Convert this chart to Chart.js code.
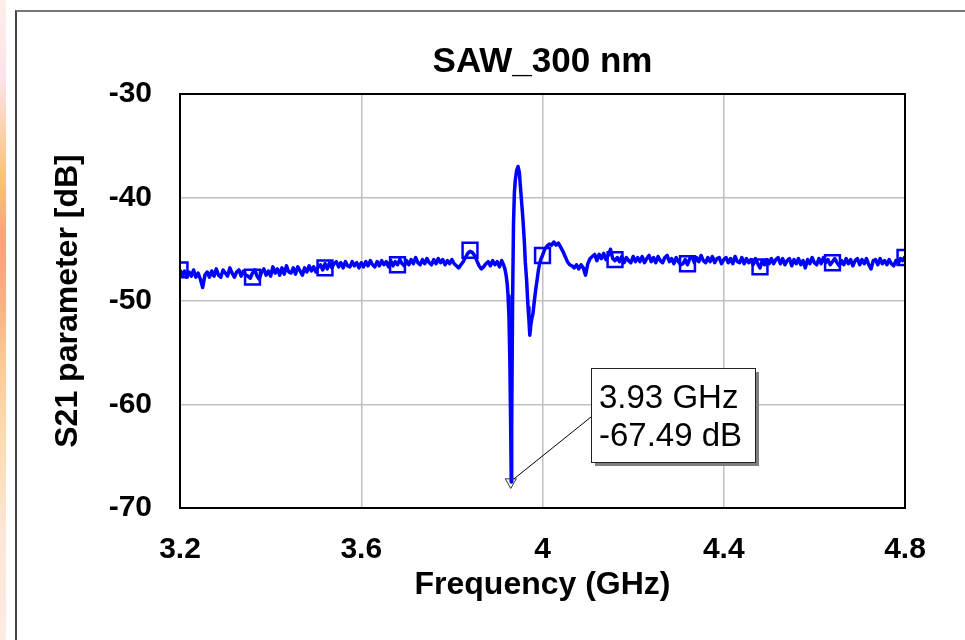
<!DOCTYPE html>
<html lang="en">
<head>
    <meta charset="UTF-8" />
    <title>SAW_300 nm</title>
    <script src="https://cdn.jsdelivr.net/npm/chart.js"></script>
    <style>
        html, body {
            margin: 0;
            padding: 0;
            background: #fff;
        }

        body {
            position: relative;
            width: 965px;
            height: 640px;
            overflow: hidden;
            font-family: "Liberation Sans", Arial, sans-serif;
        }

        .strip {
            position: absolute;
            left: 0;
            top: 0;
            width: 6px;
            height: 640px;
            background: linear-gradient(to bottom, #fdeee8 0%, #fde3ea 12%, #f9c47c 27%, #f7a37a 38%,
                #f9b283 48%, #fbc893 56%, #fcdbb0 68%, #fde7d8 85%, #fdebdf 100%);
        }

        .frame {
            position: absolute;
            left: 15px;
            top: 10px;
            width: 1000px;
            height: 700px;
            border-top: 2px solid #777;
            border-left: 2px solid #444;
        }

        .chart-box {
            position: absolute;
            left: 0;
            top: 0;
            width: 965px;
            height: 640px;
        }
    </style>
</head>
<body>

<div class="strip"></div>
<div class="frame"></div>
<div class="chart-box">
    <canvas id="s21Chart" width="965" height="640"></canvas>
</div>

<script>
    const chartTitle = 'SAW_300 nm';
    const xTitle = 'Frequency (GHz)';
    const yTitle = 'S21 parameter [dB]';
    const xTickValues = [3.2, 3.6, 4.0, 4.4, 4.8];
    const yTickValues = [-70, -60, -50, -40, -30];

    // measured sweep (GHz)
    const freqGHz = [
        3.200, 3.205, 3.210, 3.215, 3.220, 3.225, 3.230, 3.235, 3.240, 3.245,
        3.250, 3.255, 3.260, 3.265, 3.270, 3.275, 3.280, 3.285, 3.290, 3.295,
        3.300, 3.305, 3.310, 3.315, 3.320, 3.325, 3.330, 3.335, 3.340, 3.345,
        3.350, 3.355, 3.360, 3.365, 3.370, 3.375, 3.380, 3.385, 3.390, 3.395,
        3.400, 3.405, 3.410, 3.415, 3.420, 3.425, 3.430, 3.435, 3.440, 3.445,
        3.450, 3.455, 3.460, 3.465, 3.470, 3.475, 3.480, 3.485, 3.490, 3.495,
        3.500, 3.505, 3.510, 3.515, 3.520, 3.525, 3.530, 3.535, 3.540, 3.545,
        3.550, 3.555, 3.560, 3.565, 3.570, 3.575, 3.580, 3.585, 3.590, 3.595,
        3.600, 3.605, 3.610, 3.615, 3.620, 3.625, 3.630, 3.635, 3.640, 3.645,
        3.650, 3.655, 3.660, 3.665, 3.670, 3.675, 3.680, 3.685, 3.690, 3.695,
        3.700, 3.705, 3.710, 3.715, 3.720, 3.725, 3.730, 3.735, 3.740, 3.745,
        3.750, 3.755, 3.760, 3.765, 3.770, 3.775, 3.780, 3.785, 3.790, 3.795,
        3.800, 3.805, 3.810, 3.815, 3.820, 3.825, 3.830, 3.835, 3.840, 3.845,
        3.850, 3.855, 3.860, 3.865, 3.870, 3.875, 3.880, 3.885, 3.890, 3.895,
        3.900, 3.905, 3.910, 3.914, 3.917, 3.920, 3.922, 3.924, 3.926, 3.928, 3.930, 3.931,
        3.932, 3.934, 3.936, 3.938, 3.940, 3.943, 3.946, 3.949, 3.951, 3.954,
        3.957, 3.960, 3.962, 3.965, 3.968, 3.970, 3.972, 3.974, 3.976, 3.979,
        3.982, 3.985, 3.988, 3.991, 3.994, 3.997, 4.000, 4.005, 4.010, 4.015,
        4.020, 4.025, 4.030, 4.035, 4.040, 4.045, 4.050, 4.055, 4.060, 4.065,
        4.070, 4.075, 4.080, 4.085, 4.090, 4.095, 4.100, 4.105,
        4.110, 4.115, 4.120, 4.125, 4.130, 4.135, 4.140, 4.145, 4.150, 4.155,
        4.160, 4.165, 4.170, 4.175, 4.180, 4.185, 4.190, 4.195, 4.200, 4.205,
        4.210, 4.215, 4.220, 4.225, 4.230, 4.235, 4.240, 4.245, 4.250, 4.255,
        4.260, 4.265, 4.270, 4.275, 4.280, 4.285, 4.290, 4.295, 4.300, 4.305,
        4.310, 4.315, 4.320, 4.325, 4.330, 4.335, 4.340, 4.345, 4.350, 4.355,
        4.360, 4.365, 4.370, 4.375, 4.380, 4.385, 4.390, 4.395, 4.400, 4.405,
        4.410, 4.415, 4.420, 4.425, 4.430, 4.435, 4.440, 4.445, 4.450, 4.455,
        4.460, 4.465, 4.470, 4.475, 4.480, 4.485, 4.490, 4.495, 4.500, 4.505,
        4.510, 4.515, 4.520, 4.525, 4.530, 4.535, 4.540, 4.545, 4.550, 4.555,
        4.560, 4.565, 4.570, 4.575, 4.580, 4.585, 4.590, 4.595, 4.600, 4.605,
        4.610, 4.615, 4.620, 4.625, 4.630, 4.635, 4.640, 4.645, 4.650, 4.655,
        4.660, 4.665, 4.670, 4.675, 4.680, 4.685, 4.690, 4.695, 4.700, 4.705,
        4.710, 4.715, 4.720, 4.725, 4.730, 4.735, 4.740, 4.745, 4.750, 4.755,
        4.760, 4.765, 4.770, 4.775, 4.780, 4.785, 4.790, 4.795, 4.800
    ];

    // S21 (dB), same rows as freqGHz
    const s21dB = [
        -47.0, -47.5, -47.1, -47.7, -47.2, -47.6, -47.0, -47.7, -47.3, -47.9,
        -48.7, -47.5, -47.2, -47.7, -47.1, -47.6, -46.9, -47.5, -47.7, -47.0,
        -47.3, -47.6, -46.8, -47.3, -47.7, -47.2, -47.0, -47.6, -47.1, -47.5,
        -47.6, -47.8, -47.3, -47.0, -47.6, -47.9, -47.2, -46.9, -47.5, -47.1,
        -47.6, -46.7, -47.3, -46.9, -47.5, -46.8, -47.4, -46.6, -47.2, -47.3,
        -46.8, -47.4, -46.7, -47.1, -47.5, -46.8, -47.2, -46.6, -47.1, -46.7,
        -47.2, -46.7, -46.5, -47.0, -46.4, -46.9, -46.3, -46.8, -46.4, -46.2,
        -46.7, -46.3, -46.8, -46.2, -46.6, -46.7, -46.2, -46.6, -46.3, -46.8,
        -46.3, -46.7, -46.2, -46.6, -46.1, -46.5, -46.7, -46.2, -46.6, -46.1,
        -46.5, -46.2, -46.7, -46.1, -46.6, -46.2, -46.5, -46.0, -46.4, -46.6,
        -46.1, -46.5, -46.0, -46.4, -45.8, -46.3, -46.5, -46.0, -46.4, -45.9,
        -46.3, -46.5, -46.0, -46.4, -45.9, -46.3, -46.0, -46.5, -46.1, -46.4,
        -46.0, -46.4, -46.6, -46.8, -46.5, -46.2, -45.8, -45.4, -45.2, -45.3,
        -45.6, -46.1, -46.6, -46.9, -46.7, -46.4, -46.2, -46.6, -46.1, -46.5,
        -46.2, -46.7, -46.1, -46.5, -46.9, -47.6, -48.3, -49.5, -51.5, -56.0, -63.0, -67.49,
        -62.0, -50.0, -42.5, -39.5, -38.3, -37.4, -37.0, -37.6, -38.8, -40.5,
        -42.2, -44.3, -46.2, -48.0, -50.6, -51.8, -53.3, -52.4, -51.8, -51.2,
        -50.0, -48.9, -48.0, -47.0, -46.3, -45.9, -45.6, -45.0, -44.7, -44.5,
        -44.6, -44.3, -44.6, -44.4, -44.8, -45.2, -45.7, -46.2, -46.5, -46.6,
        -46.8, -46.5, -46.9, -46.5, -46.8, -47.5, -46.4, -45.9,
        -45.7, -45.5, -46.1, -45.5, -45.9, -45.4, -46.0, -45.6, -45.0, -45.9,
        -46.1, -45.8, -46.2, -45.7, -46.3, -45.8, -46.1, -46.3, -45.7, -46.2,
        -45.8, -46.2, -45.7, -46.3, -45.9, -45.6, -46.2, -45.8, -46.3, -45.7,
        -46.1, -46.3, -45.8, -45.6, -46.2, -45.9, -46.4, -45.8, -46.2, -46.5,
        -46.4, -46.0, -46.5, -45.9, -45.7, -46.3, -45.8, -46.2, -45.6, -46.1,
        -46.3, -45.8, -46.2, -45.7, -46.3, -45.9, -45.8, -46.4, -46.0, -45.8,
        -46.3, -45.9, -46.4, -45.7, -46.2, -46.3, -45.8, -46.4, -45.9, -46.3,
        -46.0, -46.5, -45.9, -46.4, -46.8, -46.1, -46.5, -46.0, -46.4, -45.9,
        -46.4, -46.0, -45.8, -46.4, -45.9, -46.5, -46.1, -45.9, -46.6, -46.0,
        -46.4, -45.9, -46.5, -46.1, -46.8, -46.0, -46.4, -45.8, -46.3, -46.5,
        -45.9, -46.4, -45.8, -46.3, -46.0, -46.5, -46.2, -45.9, -46.3, -46.6,
        -46.1, -46.5, -45.9, -46.4, -46.0, -46.6, -46.1, -45.9, -46.5, -46.0,
        -46.4, -45.9, -46.5, -46.9, -46.1, -46.0, -46.5, -45.9, -46.4, -46.1,
        -46.5, -46.0, -46.4, -46.6, -46.1, -46.4, -45.9, -46.1, -45.7
    ];

    // square markers on the trace
    const markerFreq = [3.2, 3.36, 3.52, 3.68, 3.84, 4.0, 4.16, 4.32, 4.48, 4.64, 4.8];
    const markerDb = [-47.0, -47.7, -46.8, -46.5, -45.1, -45.6, -46.0, -46.4, -46.7, -46.3, -45.8];

    // marker read-out at the notch
    const dipFreq = [3.93];
    const dipDb = [-67.49];
    const noteLines = ['3.93 GHz', '-67.49 dB'];
    const noteAt = { freq: 4.107, db: -56.47 }; // top-left corner of the read-out box

    const FONT = '"Liberation Sans", Arial, sans-serif';

    const plotDecor = {
        id: 'plotDecor',
        afterDatasetsDraw(chart) {
            const { ctx, chartArea: a, scales: { x, y } } = chart;
            ctx.save();

            // plot frame
            ctx.strokeStyle = '#000';
            ctx.lineWidth = 2;
            ctx.strokeRect(a.left, a.top, a.right - a.left, a.bottom - a.top);

            // read-out box with leader line
            const bx = Math.round(x.getPixelForValue(noteAt.freq));
            const by = Math.round(y.getPixelForValue(noteAt.db));
            const bw = 164, bh = 94;
            const px = x.getPixelForValue(dipFreq[0]);
            const py = y.getPixelForValue(dipDb[0]);

            ctx.lineWidth = 1;
            ctx.strokeStyle = '#000';
            ctx.beginPath();
            ctx.moveTo(px + 3, py - 3);
            ctx.lineTo(bx, by + 49);
            ctx.stroke();

            ctx.fillStyle = '#808080';
            ctx.fillRect(bx + 4, by + 4, bw, bh);
            ctx.fillStyle = '#fff';
            ctx.fillRect(bx, by, bw, bh);
            ctx.strokeStyle = '#222';
            ctx.strokeRect(bx + 0.5, by + 0.5, bw, bh);

            ctx.fillStyle = '#000';
            ctx.font = '33px ' + FONT;
            ctx.textAlign = 'left';
            ctx.textBaseline = 'alphabetic';
            ctx.fillText(noteLines[0], bx + 8, by + 40);
            ctx.fillText(noteLines[1], bx + 8, by + 78);

            // title over the plot area
            ctx.font = 'bold 35px ' + FONT;
            ctx.textAlign = 'center';
            ctx.fillText(chartTitle, (a.left + a.right) / 2, a.top - 22);

            ctx.restore();
        }
    };

    const s21Chart = new Chart(document.getElementById('s21Chart'), {
        type: 'line',
        data: {
            datasets: [
                {
                    label: 'notch',
                    data: dipFreq.map((f, i) => ({ x: f, y: dipDb[i] })),
                    showLine: false,
                    pointStyle: 'triangle',
                    rotation: 180,
                    pointRadius: 6.4,
                    pointBorderColor: '#333',
                    pointBackgroundColor: 'rgba(255,255,255,0)',
                    pointBorderWidth: 1,
                    clip: false,
                    order: 0
                },
                {
                    label: 'markers',
                    data: markerFreq.map((f, i) => ({ x: f, y: markerDb[i] })),
                    showLine: false,
                    pointStyle: 'rect',
                    pointRadius: 10.5,
                    pointBorderColor: '#0000ff',
                    pointBackgroundColor: 'rgba(255,255,255,0)',
                    pointBorderWidth: 2.5,
                    clip: 0,
                    order: 1
                },
                {
                    label: 'S21',
                    data: freqGHz.map((f, i) => ({ x: f, y: s21dB[i] })),
                    borderColor: '#0000ff',
                    borderWidth: 3.5,
                    borderJoinStyle: 'round',
                    pointRadius: 0,
                    tension: 0,
                    clip: 0,
                    order: 2
                }
            ]
        },
        options: {
            responsive: false,
            animation: false,
            layout: {
                padding: { left: 45, right: 60, top: 94, bottom: 32 }
            },
            plugins: {
                legend: { display: false },
                tooltip: { enabled: false },
                title: { display: false }
            },
            scales: {
                x: {
                    type: 'linear',
                    min: 3.2,
                    max: 4.8,
                    afterBuildTicks: (scale) => { scale.ticks = xTickValues.map(v => ({ value: v })); },
                    afterFit: (scale) => { scale.height = 100; },
                    grid: { color: '#c0c0c0', lineWidth: 1.5, drawTicks: false },
                    border: { display: false },
                    ticks: {
                        padding: 24,
                        color: '#000',
                        font: { family: FONT, size: 30, weight: 'bold' },
                        callback: (v) => String(Math.round(v * 10) / 10)
                    },
                    title: {
                        display: true,
                        text: xTitle,
                        color: '#000',
                        font: { family: FONT, size: 32, weight: 'bold' },
                        padding: { top: 0, bottom: 4 }
                    }
                },
                y: {
                    min: -70,
                    max: -30,
                    afterBuildTicks: (scale) => { scale.ticks = yTickValues.map(v => ({ value: v })); },
                    afterFit: (scale) => { scale.width = 135; },
                    grid: { color: '#c0c0c0', lineWidth: 1.5, drawTicks: false },
                    border: { display: false },
                    ticks: {
                        padding: 28,
                        color: '#000',
                        font: { family: FONT, size: 30, weight: 'bold' }
                    },
                    title: {
                        display: true,
                        text: yTitle,
                        color: '#000',
                        font: { family: FONT, size: 32, weight: 'bold' },
                        padding: { top: 4, bottom: 0 }
                    }
                }
            }
        },
        plugins: [plotDecor]
    });
</script>

</body>
</html>
